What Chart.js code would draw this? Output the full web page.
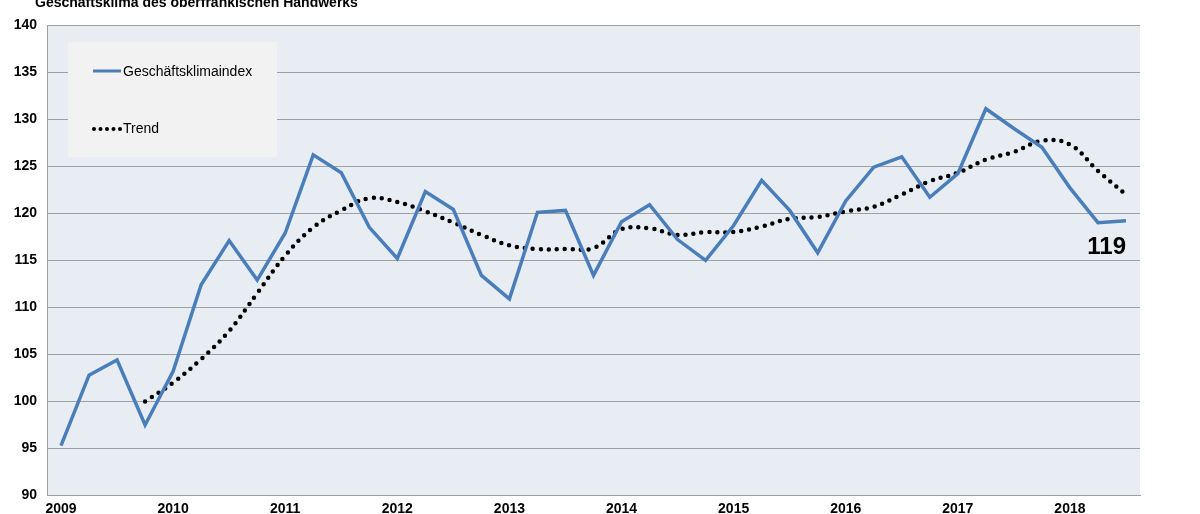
<!DOCTYPE html>
<html>
<head>
<meta charset="utf-8">
<script src="https://cdn.jsdelivr.net/npm/chart.js@4"></script>
<style>
  html, body { margin: 0; padding: 0; background: #fff; overflow: hidden; }
  #wrap { width: 1200px; height: 514px; }
</style>
</head>
<body>
<div id="wrap"><canvas id="chart" width="1200" height="514"></canvas></div>
<script>
const years = ['2009', '2010', '2011', '2012', '2013', '2014', '2015', '2016', '2017', '2018'];

// quarterly labels: year on the first quarter, blank otherwise
const quarters = [];
for (let i = 0; i < 39; i++) quarters.push(i % 4 === 0 ? years[i / 4] : '');

const klimaIndex = [95.3, 102.8, 104.4, 97.5, 103.2, 112.4, 117.1, 112.9, 117.9, 126.2,
  124.3, 118.5, 115.2, 122.3, 120.4, 113.4, 110.9, 120.1, 120.3, 113.4,
  119.1, 120.9, 117.2, 115.0, 118.7, 123.5, 120.3, 115.8, 121.3, 124.9,
  126.0, 121.7, 124.2, 131.1, 129.0, 127.0, 122.7, 119.0, 119.2];

const trend = [null, null, null, 100.0, 102.0, 104.5, 107.5, 111.5, 115.5, 118.5,
  120.3, 121.6, 121.2, 120.2, 119.0, 117.7, 116.6, 116.2, 116.2, 116.3,
  118.3, 118.4, 117.7, 118.0, 118.0, 118.6, 119.4, 119.6, 120.2, 120.7,
  122.0, 123.4, 124.3, 125.7, 126.5, 127.7, 127.3, 124.5, 122.0];

const yTicks = [90, 95, 100, 105, 110, 115, 120, 125, 130, 135, 140];

// plot background, title, legend box and end label
const decor = {
  id: 'decor',
  beforeDraw(chart) {
    const { ctx, chartArea: a } = chart;
    ctx.save();
    ctx.fillStyle = '#e8edf4';
    ctx.fillRect(a.left, a.top, a.right - a.left, a.bottom - a.top);
    ctx.restore();
  },
  afterDraw(chart) {
    const { ctx, scales } = chart;
    ctx.save();
    ctx.fillStyle = '#000';
    ctx.font = 'bold 14px "Liberation Sans", Arial, sans-serif';
    ctx.textBaseline = 'middle';
    ctx.fillText('Geschäftsklima des oberfränkischen Handwerks', 35, 3);

    // legend
    ctx.fillStyle = '#f2f2f2';
    ctx.fillRect(68, 42, 209, 115);
    ctx.font = '14px "Liberation Sans", Arial, sans-serif';
    ctx.strokeStyle = '#4a7ebb';
    ctx.lineWidth = 3;
    ctx.beginPath(); ctx.moveTo(93, 71); ctx.lineTo(121, 71); ctx.stroke();
    ctx.fillStyle = '#000';
    ctx.fillText('Geschäftsklimaindex', 123, 72);
    for (let i = 0; i < 5; i++) {
      ctx.beginPath(); ctx.arc(94 + i * 6.5, 129, 2, 0, Math.PI * 2); ctx.fill();
    }
    ctx.fillText('Trend', 123, 129);

    // x labels (cut by the bottom edge)
    ctx.font = 'bold 14px "Liberation Sans", Arial, sans-serif';
    ctx.textAlign = 'center';
    ctx.textBaseline = 'top';
    quarters.forEach((q, i) => {
      if (q) ctx.fillText(q, scales.x.getPixelForValue(i), scales.y.bottom + 7);
    });

    // last value label
    const last = klimaIndex.length - 1;
    ctx.font = 'bold 24px "Liberation Sans", Arial, sans-serif';
    ctx.textAlign = 'right';
    ctx.textBaseline = 'middle';
    ctx.fillText('119', scales.x.getPixelForValue(last), scales.y.getPixelForValue(klimaIndex[last]) + 27);
    ctx.restore();
  }
};

new Chart(document.getElementById('chart'), {
  type: 'line',
  data: {
    labels: quarters,
    datasets: [
      {
        label: 'Geschäftsklimaindex',
        data: klimaIndex,
        borderColor: '#4a7ebb',
        borderWidth: 3.5,
        pointRadius: 0,
        tension: 0
      },
      {
        label: 'Trend',
        data: trend,
        borderColor: '#000',
        borderWidth: 4.5,
        borderDash: [0, 8],
        borderCapStyle: 'round',
        pointRadius: 0,
        tension: 0.4
      }
    ]
  },
  options: {
    responsive: false,
    animation: false,
    layout: { padding: { top: 25, right: 60, left: 0, bottom: 0 } },
    plugins: { legend: { display: false }, tooltip: { enabled: false } },
    scales: {
      x: {
        offset: true,
        grid: { display: false },
        border: { color: '#a0a0a0' },
        ticks: { display: false },
        afterFit(s) { s.height = 13; }
      },
      y: {
        min: 90, max: 140,
        afterBuildTicks(s) { s.ticks = yTicks.map(v => ({ value: v })); },
        grid: { color: '#a0a0a0', drawTicks: false },
        border: { color: '#a0a0a0' },
        ticks: {
          padding: 10, color: '#000',
          font: { size: 14, weight: 'bold', family: '"Liberation Sans", Arial' }
        },
        afterFit(s) { s.width = 47; }
      }
    }
  },
  plugins: [decor]
});
</script>
</body>
</html>
